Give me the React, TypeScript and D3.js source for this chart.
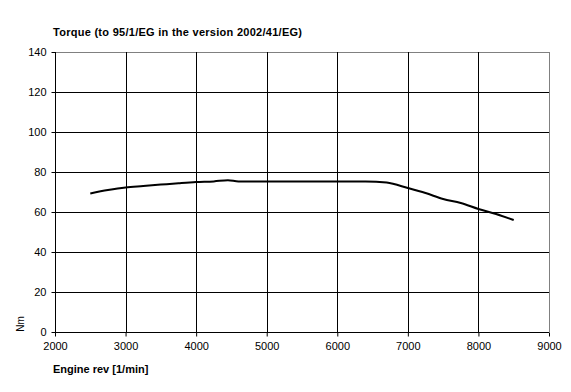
import * as d3 from "d3";
import { useEffect, useRef } from "react";

const revs = [2500, 2750, 3000, 3250, 3500, 3750, 4000, 4250, 4450, 4600, 5000, 5500, 6000, 6400, 6700, 7000, 7250, 7500, 7750, 8000, 8250, 8500];
const torque = [69.3, 71, 72.3, 73, 73.7, 74.4, 75, 75.3, 75.9, 75.3, 75.3, 75.3, 75.3, 75.3, 74.7, 72, 69.5, 66.5, 64.5, 61.5, 59, 56];
const xTicks = [2000, 3000, 4000, 5000, 6000, 7000, 8000, 9000];
const yTicks = [0, 20, 40, 60, 80, 100, 120, 140];

const App = () => {
  const svgRef = useRef<SVGSVGElement>(null);

  useEffect(() => {
    const svg = d3.select(svgRef.current);
    svg.selectAll("*").remove();

    const left = 55, right = 549, top = 52, bottom = 332;
    const x = d3.scaleLinear().domain([2000, 9000]).range([left, right]);
    const y = d3.scaleLinear().domain([0, 140]).range([bottom, top]);
    const font = "Liberation Sans, Arial, sans-serif";

    // grid
    svg.append("g")
      .selectAll("line.h")
      .data(yTicks.slice(1))
      .enter()
      .append("line")
      .attr("x1", left).attr("x2", right)
      .attr("y1", (d) => Math.round(y(d)) + 0.5).attr("y2", (d) => Math.round(y(d)) + 0.5)
      .attr("stroke", (d) => (d === 140 ? "#808080" : "#000"))
      .attr("stroke-width", 1);

    svg.append("g")
      .selectAll("line.v")
      .data(xTicks.slice(1))
      .enter()
      .append("line")
      .attr("x1", (d) => Math.round(x(d)) + 0.5).attr("x2", (d) => Math.round(x(d)) + 0.5)
      .attr("y1", top).attr("y2", bottom)
      .attr("stroke", (d) => (d === 9000 ? "#808080" : "#000"))
      .attr("stroke-width", 1);

    // axes
    const xAxis = svg.append("g")
      .attr("transform", `translate(0,${Math.round(bottom) + 0.5})`)
      .call(d3.axisBottom(x).tickValues(xTicks).tickSize(4).tickPadding(6).tickFormat((d) => String(d)));
    const yAxis = svg.append("g")
      .attr("transform", `translate(${left + 0.5},0)`)
      .call(d3.axisLeft(y).tickValues(yTicks).tickSize(4).tickPadding(5).tickFormat((d) => String(d)));

    [xAxis, yAxis].forEach((a) => {
      a.select(".domain").attr("stroke", "#000").attr("stroke-width", 1);
      a.selectAll(".tick line").attr("stroke", "#000");
      a.selectAll("text")
        .attr("fill", "#000")
        .style("font-family", font)
        .style("font-size", "11px");
    });
    xAxis.select(".domain").attr("d", `M${left},0H${right}`);
    yAxis.select(".domain").attr("d", `M0,${bottom}V${top}`);

    // curve
    const line = d3.line<number>()
      .x((d, i) => x(revs[i]))
      .y((d) => y(d))
      .curve(d3.curveMonotoneX);
    svg.append("path")
      .datum(torque)
      .attr("d", line)
      .attr("fill", "none")
      .attr("stroke", "#000")
      .attr("stroke-width", 2);

    // title and labels
    svg.append("text")
      .attr("x", 53).attr("y", 36)
      .style("font-family", font).style("font-size", "11px").style("font-weight", "bold")
      .attr("textLength", 249)
      .text("Torque (to 95/1/EG in the version 2002/41/EG)");

    svg.append("text")
      .attr("x", 53).attr("y", 373)
      .style("font-family", font).style("font-size", "11px").style("font-weight", "bold")
      .text("Engine rev [1/min]");

    svg.append("text")
      .attr("transform", "translate(24,324) rotate(-90)")
      .attr("text-anchor", "middle")
      .style("font-family", font).style("font-size", "10px")
      .text("Nm");
  }, []);

  return (
    <svg ref={svgRef} width={571} height={392} style={{ position: "absolute", left: 0, top: 0, background: "#fff" }}></svg>
  );
};

export default App;
